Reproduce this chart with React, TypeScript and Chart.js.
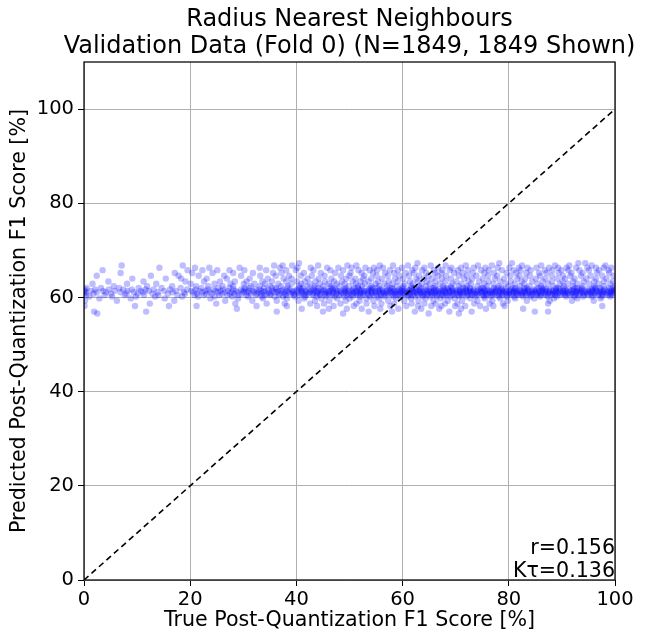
import React, { useEffect, useRef } from "react";
import { Chart, registerables } from "chart.js";
Chart.register(...registerables);

const FONT = "'DejaVu Sans', 'Liberation Sans', sans-serif";
const titleLines = ["Radius Nearest Neighbours", "Validation Data (Fold 0) (N=1849, 1849 Shown)"];
const xLabel = "True Post-Quantization F1 Score [%]";
const yLabel = "Predicted Post-Quantization F1 Score [%]";
const statLines = ["r=0.156", "K\u03c4=0.136"];
const xRange = [0, 100];
const yRange = [0, 110];
const tickStep = 20;
const diagonal = [{ x: 0, y: 0 }, { x: 100, y: 100 }];

// scatter rows: one predicted value per row, true values listed
const rowY = [67.3, 66.8, 66.3, 65.8, 65.2, 64.6, 64.0, 63.4, 62.9, 62.4,
  62.0, 61.7, 61.4, 61.1, 60.8, 60.5, 60.2,
  59.8, 59.3, 58.7, 58.2, 57.6, 57.0, 56.6];
const rowX = [
  [40.5, 62.8, 78.2, 80.6, 93.1, 94.4],
  [7.1, 18.6, 35.8, 37.4, 39.2, 44.1, 49.6, 51.3, 55.7, 58.2, 61.0, 65.3, 68.1, 71.9, 74.2, 76.8, 82.5, 86.1, 88.7, 91.4, 95.6, 98.2],
  [14.2, 20.9, 23.6, 29.3, 33.1, 36.9, 40.2, 42.7, 45.8, 47.9, 50.4, 53.0, 54.6, 56.3, 59.9, 62.4, 64.1, 66.7, 69.2, 71.0, 73.4, 75.6, 77.9, 80.1, 81.9, 83.5, 85.2, 87.6, 89.3, 90.9, 92.7, 94.8, 96.4, 97.9, 99.3],
  [3.5, 19.5, 22.3, 25.1, 27.4, 30.2, 34.3, 38.1, 39.9, 43.2, 46.4, 48.8, 51.7, 53.8, 55.2, 57.6, 59.1, 61.8, 63.7, 65.9, 67.5, 68.9, 70.4, 72.3, 74.8, 76.2, 78.7, 80.9, 82.2, 84.1, 86.8, 88.2, 89.9, 91.2, 93.3, 95.1, 97.0, 98.8],
  [6.9, 17.1, 20.4, 24.2, 28.1, 31.8, 35.6, 37.2, 41.4, 44.6, 47.3, 50.2, 52.3, 54.4, 56.7, 58.4, 60.6, 62.1, 64.4, 66.1, 67.3, 69.7, 71.3, 73.2, 75.4, 77.2, 79.6, 81.4, 83.3, 85.7, 87.1, 89.4, 91.8, 93.9, 96.6, 98.9],
  [2.4, 12.6, 17.8, 21.6, 26.4, 29.6, 33.2, 36.1, 38.6, 40.8, 42.9, 45.3, 48.4, 50.0, 52.8, 55.1, 57.2, 59.4, 61.2, 63.1, 64.9, 66.6, 68.2, 70.6, 72.1, 73.9, 76.1, 77.8, 80.3, 82.0, 84.0, 85.9, 88.1, 90.2, 91.6, 93.6, 95.4, 97.6, 99.7],
  [9.1, 15.4, 18.3, 23.1, 26.9, 31.2, 34.6, 37.6, 39.1, 42.1, 44.2, 46.6, 49.4, 51.1, 52.6, 54.1, 56.1, 58.6, 60.1, 62.6, 64.0, 65.6, 67.4, 69.1, 71.6, 73.1, 75.1, 77.4, 79.1, 81.6, 83.1, 85.1, 86.9, 89.1, 90.6, 92.4, 94.6, 96.4, 98.4],
  [4.6, 11.2, 19.1, 22.6, 25.6, 28.4, 30.6, 33.6, 35.4, 38.1, 40.1, 41.6, 43.6, 45.4, 47.1, 48.6, 50.6, 52.1, 53.6, 55.4, 57.4, 59.1, 61.4, 62.9, 64.6, 66.2, 68.1, 70.1, 72.4, 74.4, 76.2, 78.4, 80.4, 82.4, 84.4, 86.4, 88.1, 90.1, 92.1, 94.1, 96.1, 97.9, 99.6],
  [1.6, 8.1, 13.6, 20.1, 24.6, 27.6, 30.1, 32.1, 34.1, 36.6, 39.1, 40.9, 42.6, 44.4, 46.1, 47.6, 49.1, 51.2, 52.9, 54.9, 56.6, 58.1, 60.4, 61.9, 63.6, 65.1, 67.1, 69.4, 71.1, 72.9, 75.4, 77.1, 79.4, 81.1, 82.9, 85.4, 87.4, 89.6, 91.1, 92.9, 95.1, 96.9, 99.1],
  [5.6, 11.9, 16.6, 21.1, 23.4, 26.1, 28.1, 31.4, 33.1, 35.1, 37.1, 38.4, 40.6, 42.1, 43.4, 45.1, 46.4, 48.1, 49.9, 51.6, 52.4, 54.1, 55.6, 57.1, 58.9, 60.1, 61.6, 63.1, 64.4, 66.1, 67.6, 69.1, 70.6, 72.1, 74.1, 75.9, 78.1, 79.9, 82.1, 83.9, 86.1, 88.4, 90.4, 92.1, 93.9, 96.1, 97.9, 100],
  [0.5, 3.2, 6.6, 10.3, 14.6, 18.2, 22.1, 25.3, 27.4, 30.2, 31.1, 33.9, 35.4, 36.1, 38.3, 40.6, 41.2, 43.4, 44.1, 46.6, 47.0, 49.2, 50.9, 51.6, 53.9, 54.4, 55.2, 57.6, 58.0, 59.9, 61.8, 62.2, 63.4, 65.6, 65.9, 67.9, 68.4, 69.2, 71.4, 71.9, 72.7, 74.8, 75.1, 77.2, 77.9, 78.6, 80.7, 81.2, 82.9, 83.4, 85.6, 86.2, 86.7, 88.9, 89.3, 90.2, 92.4, 92.8, 93.7, 95.9, 96.3, 97.2, 98.9, 99.6],
  [0.2, 2.1, 4.7, 7.4, 9.0, 11.6, 13.1, 16.2, 19.4, 21.0, 23.3, 24.4, 26.2, 28.1, 29.6, 30.4, 32.3, 33.0, 34.7, 36.2, 37.4, 38.8, 40.1, 40.9, 42.3, 43.1, 44.6, 45.3, 46.8, 47.4, 48.9, 49.3, 50.6, 51.8, 52.3, 53.6, 54.2, 55.7, 56.1, 57.3, 58.2, 59.4, 60.0, 60.9, 61.5, 62.7, 63.3, 64.4, 65.0, 66.2, 66.9, 67.7, 68.6, 69.4, 70.3, 70.9, 71.9, 72.8, 73.4, 74.5, 75.3, 75.9, 77.0, 77.6, 78.7, 79.3, 80.4, 81.1, 81.9, 83.0, 83.6, 84.7, 85.2, 86.4, 87.1, 87.8, 88.9, 89.5, 90.6, 91.3, 92.1, 93.2, 93.8, 94.9, 95.6, 96.3, 97.4, 98.1, 99.2, 99.9],
  [0.1, 1.3, 3.6, 5.8, 8.2, 10.7, 12.2, 15.1, 17.3, 20.2, 21.8, 22.9, 24.8, 25.7, 27.1, 28.6, 29.9, 31.0, 31.8, 33.4, 34.1, 35.5, 36.6, 37.2, 38.1, 39.3, 39.9, 41.1, 41.7, 42.8, 43.6, 44.2, 45.1, 45.9, 46.4, 47.6, 48.2, 49.1, 49.8, 50.5, 51.2, 52.0, 52.8, 53.3, 54.0, 54.9, 55.4, 56.3, 57.0, 57.8, 58.5, 59.1, 59.7, 60.4, 61.2, 61.9, 62.4, 63.1, 63.9, 64.7, 65.3, 65.9, 66.6, 67.3, 68.0, 68.8, 69.3, 70.0, 70.7, 71.4, 72.1, 72.6, 73.3, 74.1, 74.8, 75.5, 76.2, 76.7, 77.5, 78.2, 78.9, 79.6, 80.2, 80.9, 81.5, 82.3, 82.9, 83.6, 84.3, 84.9, 85.7, 86.2, 86.9, 87.6, 88.3, 88.9, 89.7, 90.3, 90.9, 91.7, 92.4, 92.9, 93.6, 94.4, 95.1, 95.7, 96.5, 97.1, 97.8, 98.6, 99.3, 99.8],
  [0.3, 2.4, 4.1, 6.9, 9.4, 11.1, 13.9, 16.7, 18.8, 20.6, 22.3, 23.7, 25.2, 26.5, 27.8, 28.9, 30.1, 30.8, 32.0, 32.9, 33.8, 34.9, 35.8, 36.4, 37.7, 38.5, 39.2, 40.3, 41.0, 41.9, 42.5, 43.3, 44.0, 44.8, 45.6, 46.2, 47.0, 47.8, 48.5, 49.4, 50.1, 50.8, 51.4, 52.2, 52.7, 53.5, 54.3, 54.8, 55.6, 56.2, 56.9, 57.5, 58.3, 58.9, 59.5, 60.2, 60.8, 61.4, 62.0, 62.6, 63.3, 63.8, 64.5, 65.1, 65.7, 66.3, 67.0, 67.6, 68.2, 68.9, 69.5, 70.2, 70.8, 71.3, 72.0, 72.6, 73.2, 73.9, 74.5, 75.0, 75.7, 76.4, 77.0, 77.6, 78.3, 78.8, 79.5, 80.1, 80.8, 81.4, 82.0, 82.6, 83.2, 83.9, 84.5, 85.1, 85.8, 86.4, 87.0, 87.7, 88.3, 88.8, 89.5, 90.2, 90.7, 91.4, 92.1, 92.7, 93.3, 94.0, 94.6, 95.3, 95.9, 96.6, 97.3, 97.9, 98.5, 99.2, 99.7],
  [0.0, 1.8, 5.1, 8.0, 10.1, 12.9, 15.8, 19.0, 21.3, 23.0, 24.1, 26.0, 27.5, 28.3, 29.7, 31.4, 32.6, 33.3, 34.5, 35.2, 36.9, 37.9, 38.9, 39.6, 40.8, 41.4, 42.2, 43.0, 43.9, 44.5, 45.4, 46.1, 46.9, 47.5, 48.4, 49.0, 49.7, 50.7, 51.3, 51.9, 52.6, 53.4, 54.2, 55.0, 55.8, 56.5, 57.2, 58.0, 58.6, 59.3, 60.1, 60.6, 61.3, 62.1, 62.8, 63.5, 64.1, 64.8, 65.5, 66.1, 66.8, 67.4, 68.1, 68.7, 69.6, 70.1, 70.9, 71.5, 72.2, 72.9, 73.6, 74.2, 74.9, 75.6, 76.1, 76.8, 77.3, 78.1, 78.6, 79.3, 80.0, 80.6, 81.3, 81.8, 82.5, 83.1, 83.8, 84.4, 85.0, 85.5, 86.1, 86.8, 87.4, 88.1, 88.6, 89.2, 89.9, 90.5, 91.1, 91.9, 92.6, 93.4, 94.1, 94.8, 95.5, 96.2, 97.0, 97.6, 98.3, 99.0, 99.5],
  [0.4, 3.9, 7.7, 11.3, 14.0, 17.6, 20.8, 22.6, 25.5, 27.0, 29.1, 30.6, 32.4, 34.0, 35.0, 36.7, 38.0, 39.5, 40.5, 41.8, 43.2, 44.4, 45.7, 46.7, 48.0, 49.5, 50.3, 51.5, 52.5, 53.7, 54.6, 55.9, 56.8, 57.9, 59.0, 60.0, 61.0, 61.7, 62.9, 63.7, 64.6, 65.6, 66.4, 67.5, 68.4, 69.4, 70.5, 71.2, 72.4, 73.1, 74.0, 75.2, 75.8, 76.9, 77.8, 78.8, 79.7, 80.5, 81.6, 82.4, 83.3, 84.2, 85.3, 86.0, 87.0, 88.0, 88.7, 89.6, 90.6, 91.5, 92.3, 93.1, 94.2, 95.0, 95.8, 96.8, 97.7, 98.7, 99.4],
  [1.0, 5.3, 9.8, 13.4, 18.5, 21.5, 24.6, 27.9, 30.9, 33.5, 35.9, 37.5, 39.7, 41.6, 43.8, 45.5, 47.2, 49.0, 50.6, 52.0, 53.8, 55.3, 56.6, 58.3, 59.6, 61.1, 62.3, 63.9, 65.2, 66.5, 67.8, 69.0, 70.6, 72.0, 73.7, 75.3, 76.6, 78.1, 79.6, 81.0, 82.7, 84.1, 85.9, 87.3, 89.0, 90.8, 92.4, 94.0, 95.7, 97.5, 99.1],
  [2.9, 8.8, 15.2, 23.8, 29.0, 33.7, 38.2, 41.5, 44.7, 47.7, 50.0, 53.2, 55.6, 58.8, 61.6, 64.3, 67.1, 69.8, 72.8, 75.5, 78.4, 81.2, 84.8, 88.5, 92.9, 97.3],
  [0.2, 6.2, 17.0, 26.6, 31.7, 36.3, 40.4, 43.5, 46.2, 49.3, 51.9, 54.5, 57.3, 60.3, 63.0, 65.8, 68.5, 71.2, 74.1, 76.9, 79.8, 83.4, 87.7, 91.9, 96.0],
  [12.4, 24.9, 28.5, 34.4, 37.8, 42.6, 45.2, 48.3, 51.3, 53.2, 56.0, 58.4, 61.7, 64.1, 66.2, 68.0, 70.3, 73.5, 76.4, 78.9, 87.4],
  [0.1, 9.6, 16.0, 21.2, 32.5, 38.2, 43.9, 47.0, 50.8, 54.7, 57.7, 60.7, 62.9, 65.4, 67.3, 69.9, 71.8, 74.6, 77.1, 79.2, 97.6],
  [28.8, 41.0, 46.1, 49.5, 52.3, 55.8, 59.2, 63.5, 66.9, 71.0, 75.7, 82.7],
  [1.9, 11.7, 36.3, 45.0, 53.6, 58.0, 62.3, 68.8, 73.0, 84.9, 87.4],
  [2.5, 48.8, 64.9, 70.6],
];

export default function App() {
  const ref = useRef<HTMLCanvasElement>(null);
  useEffect(() => {
    document.body.style.margin = "0";
    const points = rowY.flatMap((y, i) => rowX[i].map((x) => ({ x, y })));
    const textPlugin = {
      id: "texts",
      afterDraw(chart: any) {
        const { ctx, chartArea: a } = chart;
        ctx.save();
        ctx.strokeStyle = "#000";
        ctx.lineWidth = 1.25;
        ctx.strokeRect(a.left, a.top, a.right - a.left, a.bottom - a.top);
        ctx.fillStyle = "#000";
        ctx.textAlign = "center";
        ctx.textBaseline = "middle";
        const cx = (a.left + a.right) / 2;
        ctx.font = `24px ${FONT}`;
        ctx.fillText(titleLines[0], cx, 20);
        ctx.fillText(titleLines[1], cx, 47);
        ctx.font = `20.6px ${FONT}`;
        ctx.fillText(xLabel, cx, 621);
        ctx.textAlign = "right";
        ctx.fillText(statLines[0], a.right, 549);
        ctx.fillText(statLines[1], a.right, 572);
        ctx.translate(20, (a.top + a.bottom) / 2);
        ctx.rotate(-Math.PI / 2);
        ctx.textAlign = "center";
        ctx.fillText(yLabel, 0, 0);
        ctx.restore();
      },
    };
    const tickFont = { family: FONT, size: 19.5 };
    const chart = new Chart(ref.current!, {
      type: "scatter",
      data: {
        datasets: [
          {
            type: "line",
            data: diagonal,
            borderColor: "#000",
            borderWidth: 1.6,
            borderDash: [6, 4],
            pointRadius: 0,
            order: 0,
          } as any,
          {
            data: points,
            backgroundColor: "rgba(0,0,255,0.26)",
            borderWidth: 0,
            pointRadius: 3.2,
            pointHoverRadius: 3.2,
            order: 1,
          },
        ],
      },
      options: {
        animation: false,
        responsive: false,
        events: [],
        layout: { padding: { left: 0, right: 33, top: 62, bottom: 0 } },
        plugins: { legend: { display: false }, tooltip: { enabled: false } },
        scales: {
          x: {
            type: "linear",
            min: xRange[0],
            max: xRange[1],
            ticks: { stepSize: tickStep, font: tickFont, color: "#000", padding: 2 },
            grid: { color: "#b0b0b0", lineWidth: 1, tickColor: "#000", tickLength: 6 },
            border: { display: false },
            afterFit: (s: any) => { s.height = 54; },
          },
          y: {
            type: "linear",
            min: yRange[0],
            max: yRange[1],
            ticks: { stepSize: tickStep, font: tickFont, color: "#000", padding: 4 },
            grid: { color: "#b0b0b0", lineWidth: 1, tickColor: "#000", tickLength: 6 },
            border: { display: false },
            afterBuildTicks: (s: any) => { s.ticks = s.ticks.filter((t: any) => t.value <= 100); },
            afterFit: (s: any) => { s.width = 84; },
          },
        },
      },
      plugins: [textPlugin],
    });
    return () => chart.destroy();
  }, []);
  return <canvas ref={ref} width={648} height={634} style={{ display: "block" }} />;
}
